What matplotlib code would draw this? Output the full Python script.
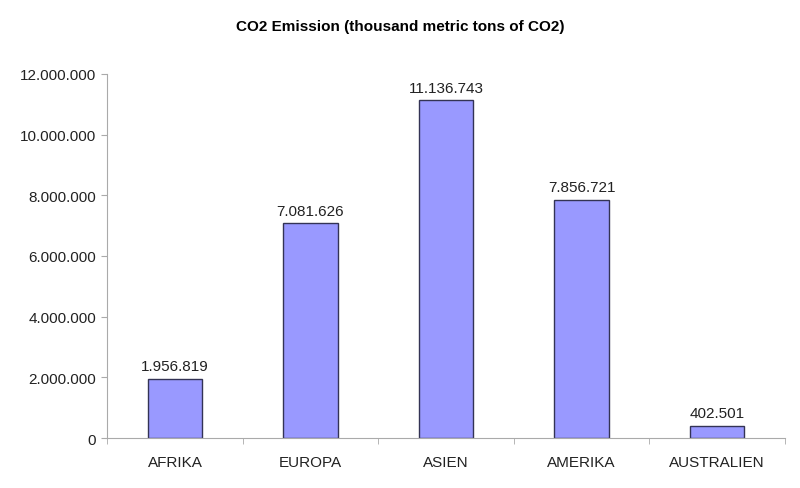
import matplotlib.pyplot as plt
from matplotlib.ticker import FuncFormatter, FixedLocator

plt.rcParams['font.family'] = ['Liberation Sans', 'DejaVu Sans']

regions = ['AFRIKA', 'EUROPA', 'ASIEN', 'AMERIKA', 'AUSTRALIEN']
emissions = [1956819, 7081626, 11136743, 7856721, 402501]
yticks = [0, 2000000, 4000000, 6000000, 8000000, 10000000, 12000000]


def dots(v, pos=None):
    return f"{int(v):,}".replace(",", ".")


fig = plt.figure(figsize=(8, 4.89), dpi=100)
ax = fig.add_axes([0.134, 0.102, 0.847, 0.745])

x = range(len(regions))
ax.bar(x, emissions, width=0.4, color='#9999FF', edgecolor='#333355', linewidth=1)
for i, v in zip(x, emissions):
    ax.text(i, v + 180000, dots(v), ha='center', va='bottom', fontsize=11, color='#222222')

ax.set_xlim(-0.5, len(regions) - 0.5)
ax.set_ylim(0, 12000000)
ax.set_yticks(yticks)
ax.yaxis.set_major_formatter(FuncFormatter(dots))

ax.set_xticks(list(x))
ax.set_xticklabels(regions)
ax.tick_params(axis='x', which='major', length=0, pad=12, labelsize=11, labelcolor='#222222')
ax.xaxis.set_minor_locator(FixedLocator([i - 0.5 for i in range(len(regions) + 1)]))
ax.tick_params(axis='x', which='minor', length=4, color='#aaaaaa', direction='out')
ax.tick_params(axis='y', length=4, color='#aaaaaa', labelsize=11, labelcolor='#222222', pad=4)

for side in ['top', 'right']:
    ax.spines[side].set_visible(False)
for side in ['left', 'bottom']:
    ax.spines[side].set_color('#aaaaaa')

fig.text(0.5, 0.945, 'CO2 Emission (thousand metric tons of CO2)', ha='center', va='center',
         fontsize=11, fontweight='bold')

fig.savefig('out.png', dpi=100)
